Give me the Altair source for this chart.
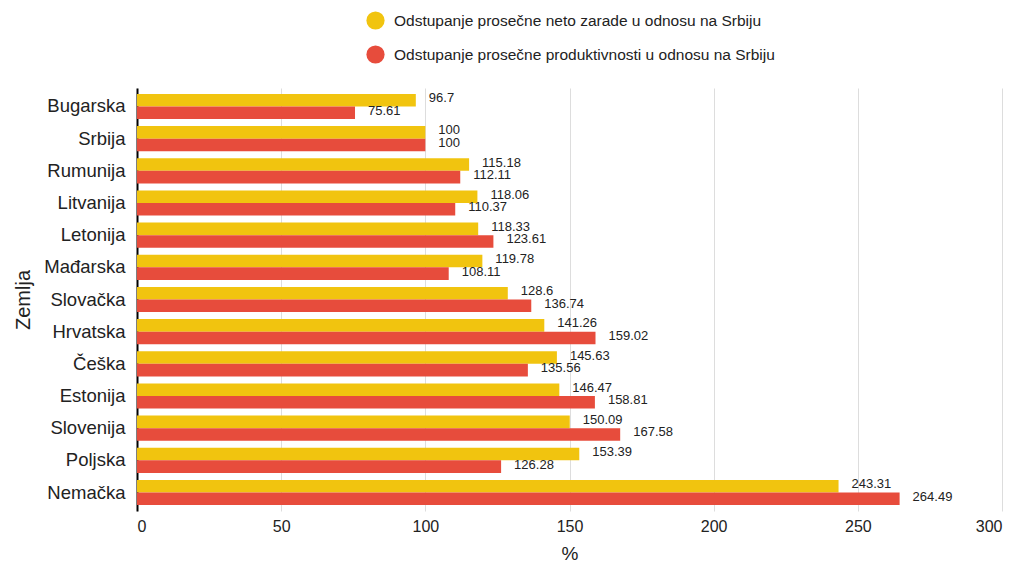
import altair as alt
import pandas as pd

countries = ["Bugarska", "Srbija", "Rumunija", "Litvanija", "Letonija", "Mađarska",
             "Slovačka", "Hrvatska", "Češka", "Estonija", "Slovenija", "Poljska", "Nemačka"]
zarade = [96.7, 100, 115.18, 118.06, 118.33, 119.78, 128.6, 141.26, 145.63, 146.47, 150.09, 153.39, 243.31]
produktivnost = [75.61, 100, 112.11, 110.37, 123.61, 108.11, 136.74, 159.02, 135.56, 158.81, 167.58, 126.28, 264.49]
series = ["Odstupanje prosečne neto zarade u odnosu na Srbiju",
          "Odstupanje prosečne produktivnosti u odnosu na Srbiju"]
colors = ["#F1C40F", "#E74C3C"]

rows = []
for c, z, p in zip(countries, zarade, produktivnost):
    rows.append({"Zemlja": c, "serija": series[0], "vrednost": z, "lab": f"{z:g}"})
    rows.append({"Zemlja": c, "serija": series[1], "vrednost": p, "lab": f"{p:g}"})
df = pd.DataFrame(rows)

font = "Liberation Sans"

y_enc = alt.Y("Zemlja:N", sort=countries,
              scale=alt.Scale(paddingInner=0.22, paddingOuter=0.185),
              axis=alt.Axis(title="Zemlja", titleFontSize=20, titleFont=font, titleFontWeight="normal",
                            titleColor="#222", labelFontSize=18.5, labelFont=font, labelColor="#222",
                            ticks=False, domainColor="#000", domainWidth=2, labelPadding=12,
                            titlePadding=10))
x_enc = alt.X("vrednost:Q", scale=alt.Scale(domain=[0, 300]),
              axis=alt.Axis(title="%", titleFontSize=19, titleFont=font, titleFontWeight="normal",
                            titleColor="#222", labelFontSize=16, labelFont=font, labelColor="#222",
                            values=[0, 50, 100, 150, 200, 250, 300], ticks=False, domain=False,
                            gridColor="#ddd", labelPadding=7, titlePadding=10))
yoff = alt.YOffset("serija:N", sort=series)

bars = alt.Chart(df).mark_bar().encode(
    y=y_enc, x=x_enc, yOffset=yoff,
    color=alt.Color("serija:N", sort=series, scale=alt.Scale(domain=series, range=colors),
                    legend=alt.Legend(title=None, orient="none", legendX=229, legendY=-77,
                                      symbolType="circle", symbolSize=330, symbolStrokeWidth=0,
                                      labelFontSize=15.5, labelFont=font, labelColor="#222",
                                      labelOffset=9, rowPadding=15, labelLimit=600)),
)
labels = alt.Chart(df).mark_text(align="left", baseline="middle", dx=13, dy=-2,
                                 fontSize=13, font=font, color="#222").encode(
    y=alt.Y("Zemlja:N", sort=countries), x="vrednost:Q", yOffset=yoff, text="lab:N")

chart = (bars + labels).properties(
    width=865, height=423,
    padding={"left": 5, "top": 3, "right": 5, "bottom": 0},
).configure_view(stroke=None)
chart.save("out.html", embed_options={"renderer": "svg", "actions": False})
